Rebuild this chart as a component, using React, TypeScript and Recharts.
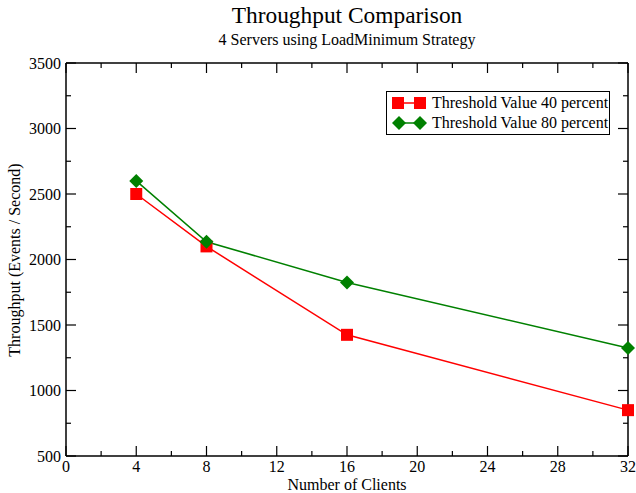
import { LineChart, Line, XAxis, YAxis } from 'recharts';

const clients = [4, 8, 16, 32];
const threshold40 = [2500, 2100, 1425, 850];
const threshold80 = [2600, 2135, 1825, 1325];

const xTicks = [0, 2, 4, 6, 8, 10, 12, 14, 16, 18, 20, 22, 24, 26, 28, 30, 32];
const xMajor = [0, 4, 8, 12, 16, 20, 24, 28, 32];
const yTicks = [500, 750, 1000, 1250, 1500, 1750, 2000, 2250, 2500, 2750, 3000, 3250, 3500];
const yMajor = [500, 1000, 1500, 2000, 2500, 3000, 3500];

const data = clients.map((c, i) => ({ clients: c, t40: threshold40[i], t80: threshold80[i] }));

const FONT = '"Liberation Serif", "Times New Roman", serif';

const BottomTick = (props: any) => {
  const { x, y, payload } = props;
  const major = xMajor.includes(payload.value);
  return (
    <g>
      <line x1={x} y1={y} x2={x} y2={y - (major ? 10 : 5)} stroke="#000" strokeWidth={1.2} />
      {major && (
        <text x={x} y={y + 16} textAnchor="middle" fontSize={16} style={{ fontFamily: FONT }} fill="#000">
          {payload.value}
        </text>
      )}
    </g>
  );
};

const TopTick = (props: any) => {
  const { x, y, payload } = props;
  const major = xMajor.includes(payload.value);
  return <line x1={x} y1={y} x2={x} y2={y + (major ? 10 : 5)} stroke="#000" strokeWidth={1.2} />;
};

const LeftTick = (props: any) => {
  const { x, y, payload } = props;
  const major = yMajor.includes(payload.value);
  return (
    <g>
      <line x1={x} y1={y} x2={x + (major ? 10 : 5)} y2={y} stroke="#000" strokeWidth={1.2} />
      {major && (
        <text x={x - 5} y={y + 5.5} textAnchor="end" fontSize={16} style={{ fontFamily: FONT }} fill="#000">
          {payload.value}
        </text>
      )}
    </g>
  );
};

const RightTick = (props: any) => {
  const { x, y, payload } = props;
  const major = yMajor.includes(payload.value);
  return <line x1={x} y1={y} x2={x - (major ? 10 : 5)} y2={y} stroke="#000" strokeWidth={1.2} />;
};

const SquareDot = (props: any) => {
  const { cx, cy, index } = props;
  return <rect key={index} x={cx - 6} y={cy - 6} width={12} height={12} fill="#ff0000" />;
};

const DiamondDot = (props: any) => {
  const { cx, cy, index } = props;
  return (
    <polygon
      key={index}
      points={`${cx},${cy - 7} ${cx + 7},${cy} ${cx},${cy + 7} ${cx - 7},${cy}`}
      fill="#008000"
    />
  );
};

const LegendBox = () => (
  <div
    style={{
      position: 'absolute',
      left: 386,
      top: 91,
      border: '1px solid #000',
      background: '#fff',
      width: 224,
      padding: '1px 0 1px 5px',
      boxSizing: 'border-box',
      fontFamily: FONT,
      fontSize: 16,
      color: '#000',
    }}
  >
    <div style={{ display: 'flex', alignItems: 'center', height: 20 }}>
      <svg width={36} height={20}>
        <line x1={6} y1={10} x2={28} y2={10} stroke="#ff0000" strokeWidth={1.5} />
        <rect x={0} y={4} width={12} height={12} fill="#ff0000" />
        <rect x={22} y={4} width={12} height={12} fill="#ff0000" />
      </svg>
      <span style={{ marginLeft: 4 }}>Threshold Value 40 percent</span>
    </div>
    <div style={{ display: 'flex', alignItems: 'center', height: 20 }}>
      <svg width={36} height={20}>
        <line x1={6} y1={10} x2={28} y2={10} stroke="#008000" strokeWidth={1.5} />
        <polygon points="7,3 14,10 7,17 0,10" fill="#008000" />
        <polygon points="28,3 35,10 28,17 21,10" fill="#008000" />
      </svg>
      <span style={{ marginLeft: 4 }}>Threshold Value 80 percent</span>
    </div>
  </div>
);

export default function App() {
  return (
    <div style={{ position: 'absolute', left: 0, top: 0, width: 636, height: 493, background: '#fff', fontFamily: FONT }}>
      <div style={{ position: 'absolute', left: 66, width: 562, top: 4, textAlign: 'center', fontSize: 23.4, lineHeight: 1 }}>
        Throughput Comparison
      </div>
      <div style={{ position: 'absolute', left: 66, width: 562, top: 32, textAlign: 'center', fontSize: 16, lineHeight: 1 }}>
        4 Servers using LoadMinimum Strategy
      </div>
      <div style={{ position: 'absolute', left: 66, width: 562, top: 477, textAlign: 'center', fontSize: 16, lineHeight: 1 }}>
        Number of Clients
      </div>
      <div
        style={{
          position: 'absolute',
          left: 15,
          top: 260,
          fontSize: 16,
          lineHeight: 1,
          whiteSpace: 'nowrap',
          transform: 'translate(-50%, -50%) rotate(-90deg)',
        }}
      >
        Throughput (Events / Second)
      </div>
      <LineChart
        width={636}
        height={493}
        data={data}
        margin={{ top: 62, right: 7, bottom: 17, left: 0 }}
        style={{ position: 'absolute', left: 0, top: 0 }}
      >
        <XAxis
          dataKey="clients"
          type="number"
          domain={[0, 32]}
          ticks={xTicks}
          interval={0}
          height={20}
          tickSize={0}
          tickMargin={0}
          tickLine={false}
          axisLine={{ stroke: '#000', strokeWidth: 1.5 }}
          tick={<BottomTick />}
        />
        <XAxis
          xAxisId="top"
          orientation="top"
          dataKey="clients"
          type="number"
          domain={[0, 32]}
          ticks={xTicks}
          interval={0}
          height={1}
          tickSize={0}
          tickMargin={0}
          tickLine={false}
          axisLine={{ stroke: '#000', strokeWidth: 1.5 }}
          tick={<TopTick />}
        />
        <YAxis
          type="number"
          domain={[500, 3500]}
          ticks={yTicks}
          interval={0}
          width={66}
          tickSize={0}
          tickMargin={0}
          tickLine={false}
          axisLine={{ stroke: '#000', strokeWidth: 1.5 }}
          tick={<LeftTick />}
        />
        <YAxis
          yAxisId="right"
          orientation="right"
          type="number"
          domain={[500, 3500]}
          ticks={yTicks}
          interval={0}
          width={1}
          tickSize={0}
          tickMargin={0}
          tickLine={false}
          axisLine={{ stroke: '#000', strokeWidth: 1.5 }}
          tick={<RightTick />}
        />
        <Line
          dataKey="t40"
          name="Threshold Value 40 percent"
          stroke="#ff0000"
          strokeWidth={1.5}
          dot={<SquareDot />}
          activeDot={false}
          isAnimationActive={false}
        />
        <Line
          xAxisId="top"
          yAxisId="right"
          dataKey="t80"
          name="Threshold Value 80 percent"
          stroke="#008000"
          strokeWidth={1.5}
          dot={<DiamondDot />}
          activeDot={false}
          isAnimationActive={false}
        />
      </LineChart>
      <LegendBox />
    </div>
  );
}
